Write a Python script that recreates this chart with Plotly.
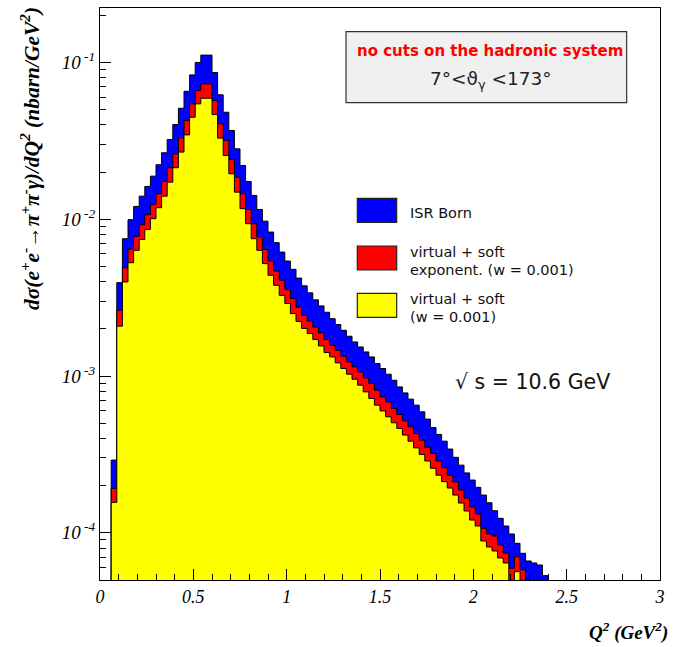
import plotly.graph_objects as go

# Histogram binning (Q^2 in GeV^2)
Q2_START = 0.06
BIN_WIDTH = 0.03

# ISR Born (blue)
isr_born = [
    2.91e-4, 3.94e-3, 7.51e-3, 9.93e-3, 1.206e-2, 1.403e-2, 1.618e-2, 1.882e-2, 2.224e-2, 2.652e-2,
    3.224e-2, 4.017e-2, 5.10e-2, 6.545e-2, 8.325e-2, 0.100, 0.1113, 0.1113, 8.61e-2, 6.21e-2,
    4.81e-2, 3.68e-2, 2.81e-2, 2.20e-2, 1.741e-2, 1.418e-2, 1.154e-2, 9.72e-3, 8.28e-3, 7.09e-3,
    6.17e-3, 5.41e-3, 4.79e-3, 4.21e-3, 3.76e-3, 3.39e-3, 3.06e-3, 2.80e-3, 2.55e-3, 2.32e-3,
    2.13e-3, 1.957e-3, 1.793e-3, 1.649e-3, 1.532e-3, 1.424e-3, 1.323e-3, 1.201e-3, 1.116e-3, 1.027e-3,
    9.40e-4, 8.52e-4, 7.80e-4, 7.12e-4, 6.52e-4, 5.91e-4, 5.31e-4, 4.69e-4, 4.24e-4, 3.84e-4,
    3.42e-4, 3.03e-4, 2.70e-4, 2.41e-4, 2.17e-4, 1.949e-4, 1.741e-4, 1.555e-4, 1.383e-4, 1.237e-4,
    1.105e-4, 9.83e-5, 8.57e-5, 7.40e-5, 6.61e-5, 6.42e-5, 6.23e-5, 5.33e-5,
]

# virtual + soft, exponentiated (red)
virt_soft_exp = [
    1.92e-4, 2.63e-3, 4.91e-3, 6.45e-3, 7.77e-3, 9.23e-3, 1.068e-2, 1.237e-2, 1.453e-2, 1.741e-2,
    2.13e-2, 2.61e-2, 3.30e-2, 4.26e-2, 5.44e-2, 6.61e-2, 7.30e-2, 7.30e-2, 5.71e-2, 4.06e-2,
    3.18e-2, 2.40e-2, 1.854e-2, 1.453e-2, 1.154e-2, 9.36e-3, 7.69e-3, 6.42e-3, 5.41e-3, 4.67e-3,
    4.08e-3, 3.57e-3, 3.12e-3, 2.75e-3, 2.44e-3, 2.24e-3, 2.05e-3, 1.882e-3, 1.708e-3, 1.571e-3,
    1.460e-3, 1.337e-3, 1.230e-3, 1.143e-3, 1.062e-3, 9.72e-4, 8.96e-4, 8.12e-4, 7.36e-4, 6.84e-4,
    6.21e-4, 5.68e-4, 5.18e-4, 4.74e-4, 4.30e-4, 3.90e-4, 3.52e-4, 3.21e-4, 2.87e-4, 2.60e-4,
    2.33e-4, 2.11e-4, 1.874e-4, 1.666e-4, 1.460e-4, 1.317e-4, 1.068e-4, 9.83e-5, 9.54e-5, 8.36e-5,
    7.43e-5, 5.94e-5, 7.04e-5, 5.80e-5,
]

# virtual + soft (yellow)
virt_soft = [
    1.564e-4, 2.08e-3, 3.98e-3, 5.28e-3, 6.33e-3, 7.43e-3, 8.61e-3, 1.007e-2, 1.184e-2, 1.403e-2,
    1.723e-2, 2.13e-2, 2.68e-2, 3.45e-2, 4.47e-2, 5.44e-2, 5.91e-2, 5.91e-2, 4.65e-2, 3.29e-2,
    2.55e-2, 1.949e-2, 1.488e-2, 1.167e-2, 9.36e-3, 7.51e-3, 6.33e-3, 5.21e-3, 4.39e-3, 3.79e-3,
    3.27e-3, 2.90e-3, 2.50e-3, 2.23e-3, 2.01e-3, 1.865e-3, 1.708e-3, 1.555e-3, 1.411e-3, 1.323e-3,
    1.212e-3, 1.116e-3, 1.027e-3, 9.54e-4, 8.74e-4, 7.92e-4, 7.19e-4, 6.52e-4, 5.99e-4, 5.49e-4,
    5.03e-4, 4.63e-4, 4.20e-4, 3.84e-4, 3.48e-4, 3.16e-4, 2.87e-4, 2.58e-4, 2.33e-4, 2.12e-4,
    1.93e-4, 1.741e-4, 1.548e-4, 1.377e-4, 1.206e-4, 1.105e-4, 8.87e-5, 8.12e-5, 7.66e-5, 6.91e-5,
    6.42e-5, 0.0, 5.65e-5,
]

x_tickvals = [0, 0.5, 1, 1.5, 2, 2.5, 3]
x_ticktext = ["0", "0.5", "1", "1.5", "2", "2.5", "3"]
y_tickvals = [1e-4, 1e-3, 1e-2, 1e-1]
y_ticktext = ["10<sup> -4</sup>", "10<sup> -3</sup>", "10<sup> -2</sup>", "10<sup> -1</sup>"]

FLOOR = 1e-7


def step_polygon(vals):
    xs = [Q2_START]
    ys = [FLOOR]
    for i, v in enumerate(vals):
        x0 = Q2_START + i * BIN_WIDTH
        x1 = x0 + BIN_WIDTH
        y = v if v > 0 else FLOOR
        xs += [x0, x1]
        ys += [y, y]
    xs.append(Q2_START + len(vals) * BIN_WIDTH)
    ys.append(FLOOR)
    return xs, ys


fig = go.Figure()
for vals, col in [(isr_born, "#0000ff"), (virt_soft_exp, "#ff0000"), (virt_soft, "#ffff00")]:
    xs, ys = step_polygon(vals)
    fig.add_trace(go.Scatter(
        x=xs, y=ys, mode="lines", fill="toself", fillcolor=col,
        line=dict(color="#000000", width=1), showlegend=False, hoverinfo="skip",
    ))

serif = "Liberation Serif"
sans = "DejaVu Sans"

minor_y = [k * 10 ** e for e in range(-5, 0) for k in range(2, 10)]

fig.update_layout(
    width=679, height=647,
    margin=dict(l=100, r=19, t=8, b=67),
    paper_bgcolor="white", plot_bgcolor="white",
    xaxis=dict(
        range=[0, 3], tickvals=x_tickvals, ticktext=x_ticktext,
        ticks="inside", ticklen=11, tickwidth=1, tickcolor="black",
        minor=dict(dtick=0.1, ticks="inside", ticklen=6, tickcolor="black", showgrid=False),
        showgrid=False, zeroline=False, showline=True, linecolor="black", linewidth=1.2, mirror=True,
        tickfont=dict(family=serif, size=18, style="italic", color="black"),
    ),
    yaxis=dict(
        type="log", range=[-4.301, -0.653], tickvals=y_tickvals, ticktext=y_ticktext,
        ticks="inside", ticklen=11, tickwidth=1, tickcolor="black",
        minor=dict(tickvals=minor_y, ticks="inside", ticklen=6, tickcolor="black", showgrid=False),
        showgrid=False, zeroline=False, showline=True, linecolor="black", linewidth=1.2, mirror=True,
        tickfont=dict(family=serif, size=19, style="italic", color="black"),
    ),
)


def note(x, y, text, size, color="#111111", family=sans, xanchor="center", weight="normal", **kw):
    fig.add_annotation(xref="paper", yref="paper", x=x, y=y, xanchor=xanchor, yanchor="middle",
                       showarrow=False, text=text,
                       font=dict(family=family, size=size, color=color, weight=weight), **kw)


# Text box at the top
fig.add_shape(type="rect", xref="paper", yref="paper", x0=0.4393, x1=0.9405, y0=0.8345, y1=0.9586,
              fillcolor="#f0f0f0", line=dict(color="#333333", width=1.2), layer="below")
note(0.6964, 0.9254, "no cuts on the hadronic system", 15, color="#ff0000", weight="bold")
note(0.6982, 0.8741, "7°<ϑ<sub>γ</sub> <173°", 18.5, color="#222222")

# Legend boxes
legend_items = [
    ("#0000ff", 0.6253, 0.6673, ["ISR Born"], [0.6421]),
    ("#ff0000", 0.5420, 0.5839, ["virtual + soft", "exponent. (w = 0.001)"], [0.5740, 0.5420]),
    ("#ffff00", 0.4593, 0.5012, ["virtual + soft", "(w = 0.001)"], [0.4913, 0.4593]),
]
for col, y0, y1, texts, ys in legend_items:
    fig.add_shape(type="rect", xref="paper", yref="paper", x0=0.4595, x1=0.5298, y0=y0, y1=y1,
                  fillcolor=col, line=dict(color="#222222", width=1.2), layer="above")
    for t, yy in zip(texts, ys):
        note(0.55, yy, t, 14.5, xanchor="left")

note(0.6304, 0.3462, "√ s = 10.6 GeV", 20.5, xanchor="left")

# Axis titles
note(-0.125, 0.736,
     "<b><i>dσ(e<sup>+</sup>e<sup>-</sup>→π<sup>+</sup>π<sup>-</sup>γ)/dQ<sup>2</sup> (nbarn/GeV<sup>2</sup>)</i></b>",
     21.5, color="black", family=serif, textangle=-90)
note(1.018, -0.0909, "<b><i>Q<sup>2</sup> (GeV<sup>2</sup>)</i></b>", 19, color="black", family=serif,
     xanchor="right")

fig.write_html("out.html", config={"displayModeBar": False},
               post_script="document.body.style.margin='0';document.body.style.padding='0';")
